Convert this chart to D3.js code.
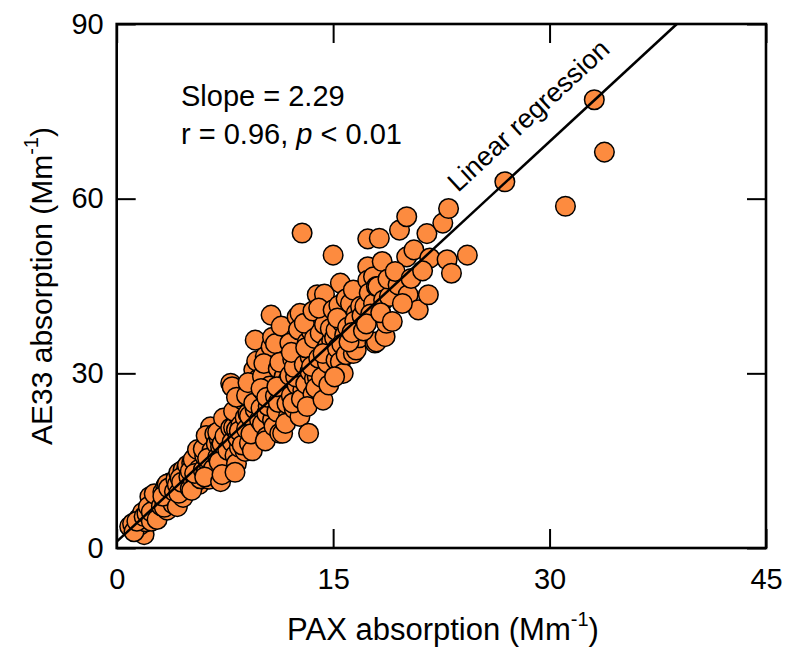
<!DOCTYPE html>
<html lang="en">
<head>
<meta charset="utf-8">
<title>AE33 vs PAX</title>
<script src="https://d3js.org/d3.v7.min.js"></script>
<style>
  body { margin: 0; background: #fff; }
  svg text { font-family: "Liberation Sans", Arial, sans-serif; fill: #000; }
  .tick line { stroke: #000; stroke-width: 2; }
  .tick text { font-size: 29px; }
  .dot { fill: #fd8b3f; stroke: #000; stroke-width: 1.5; }
</style>
</head>
<body>
<svg id="chart" width="788" height="650"></svg>
<script>
// PAX absorption (x) vs AE33 absorption (y), Mm-1
var paxValues = [
  0.9,1.1,1.3,1.5,1.7,1.9,1.6,1.2,1.8,2.0,1.4,1.9,
  2.1,2.3,2.4,2.5,2.6,2.7,2.8,2.2,2.9,3.0,2.4,2.6,2.8,
  3.1,3.2,3.3,3.4,3.5,3.6,3.7,3.8,3.9,3.3,3.5,3.7,3.9,3.2,3.6,
  4.0,4.1,4.2,4.3,4.4,4.5,4.6,4.7,4.8,4.85,4.9,4.2,4.4,4.6,4.8,4.3,4.9,4.5,
  5.0,5.1,5.2,5.3,5.4,5.5,5.6,5.7,5.8,5.9,5.1,5.3,5.5,5.7,5.9,5.2,5.6,5.8,5.4,
  6.0,6.1,6.2,6.3,6.4,6.5,6.5,6.6,6.7,6.8,6.9,6.0,6.2,6.4,6.6,6.8,6.3,6.7,6.9,6.1,
  7.0,7.1,7.2,7.3,7.4,7.5,7.6,7.7,7.8,7.9,7.0,7.2,7.4,7.6,7.8,7.1,7.3,7.5,7.7,7.9,7.3,
  8.0,8.0,8.1,8.2,8.3,8.3,8.4,8.5,8.6,8.7,8.8,8.9,8.1,8.4,8.6,8.8,8.2,8.5,8.7,8.9,8.3,
  9.0,9.1,9.2,9.3,9.4,9.5,9.6,9.6,9.7,9.7,9.8,9.9,9.0,9.2,9.4,9.6,9.8,9.3,9.5,9.9,9.1,9.7,
  10.0,10.1,10.2,10.3,10.4,10.4,10.5,10.6,10.7,10.8,10.85,10.9,10.1,10.3,10.5,10.7,10.9,10.2,10.6,10.8,10.0,10.4,
  11.0,11.1,11.2,11.3,11.4,11.5,11.5,11.6,11.7,11.8,11.9,11.0,11.2,11.4,11.6,11.8,11.3,11.7,11.9,11.1,
  12.0,12.1,12.2,12.3,12.4,12.5,12.5,12.6,12.7,12.7,12.8,12.85,12.9,12.9,12.0,12.2,12.4,12.6,12.8,12.3,12.1,
  13.0,13.1,13.2,13.3,13.4,13.5,13.6,13.7,13.8,13.9,13.9,13.0,13.2,13.4,13.6,13.8,13.1,13.5,13.7,
  14.0,14.1,14.3,14.4,14.5,14.6,14.7,14.8,14.9,14.2,14.4,14.6,14.8,14.0,14.3,14.7,
  15.0,15.0,15.1,15.2,15.2,15.3,15.4,15.5,15.5,15.6,15.7,15.8,15.9,15.1,15.3,15.6,15.9,
  16.0,16.2,16.4,16.4,16.6,16.6,16.7,16.8,16.9,16.1,16.5,16.3,
  17.0,17.2,17.4,17.4,17.4,17.5,17.8,17.8,17.9,18.0,18.0,17.1,17.6,17.3,
  18.1,18.2,18.4,18.5,18.6,18.7,18.9,18.3,18.8,
  19.1,19.5,19.6,20.1,20.1,20.2,20.6,20.9,19.3,19.8,20.4,
  21.5,21.6,21.7,22.6,22.9,23.0,23.2,24.3,21.2,
  26.9,31.1,33.1,33.8
];
var ae33Values = [
  3.7,4.2,3.1,5.0,4.8,2.3,3.9,2.8,6.1,4.5,4.6,5.4,
  5.9,8.8,4.6,6.8,7.4,5.5,8.3,7.1,6.4,8.2,6.2,9.3,4.9,
  7.2,9.6,8.4,10.6,6.5,9.1,11.2,8.0,10.1,7.0,11.0,9.4,7.6,8.9,10.3,
  9.7,11.8,7.1,12.9,10.4,9.0,13.4,11.2,10.0,13.7,12.1,10.9,12.0,8.7,11.6,9.4,14.2,11.3,
  12.3,10.2,14.6,11.7,13.8,15.9,12.4,10.9,14.1,16.4,13.2,15.2,11.4,13.5,12.8,9.9,16.9,11.9,12.8,
  13.4,15.8,13.1,17.6,14.5,15.1,20.8,12.6,18.4,16.2,14.0,17.0,19.3,11.8,16.7,19.6,15.4,13.6,17.9,12.2,
  15.6,18.8,11.4,20.1,16.9,14.3,16.3,21.4,18.1,28.3,19.9,17.4,22.3,13.1,15.4,14.8,17.9,19.2,16.8,20.6,12.6,
  27.7,18.2,20.7,15.9,20.3,14.5,22.8,17.3,24.2,19.4,21.6,16.6,23.5,18.9,21.1,25.3,13.0,20.1,17.7,22.4,25.9,
  20.4,23.1,18.0,25.6,21.9,30.6,35.7,27.4,20.3,27.1,24.3,18.8,26.2,22.7,16.7,23.8,29.0,19.6,24.9,22.0,28.4,32.1,
  24.0,21.3,26.8,32.9,23.1,19.1,28.7,25.4,40.0,22.0,30.2,26.9,29.5,18.4,24.4,34.6,20.9,31.7,27.8,36.2,27.4,25.9,
  26.1,23.4,30.8,19.7,28.3,25.4,19.7,33.6,27.0,30.6,22.6,35.1,25.0,38.1,29.4,24.8,31.9,21.4,28.9,27.7,
  29.6,26.2,32.4,23.9,36.1,39.7,28.0,30.4,22.6,40.3,33.3,54.1,34.0,27.1,35.2,24.9,29.4,37.5,25.6,31.0,33.6,
  31.5,28.2,35.3,19.7,30.3,37.2,26.4,29.1,33.8,43.5,29.4,38.6,24.3,32.9,40.7,27.5,34.4,31.2,36.0,
  32.6,36.9,25.4,43.6,34.1,34.6,30.1,40.6,35.6,29.3,38.4,31.8,37.7,41.2,33.4,28.0,
  50.3,40.9,36.1,32.3,37.4,34.3,41.7,45.5,32.0,38.8,30.0,36.6,42.8,29.4,39.5,35.0,33.2,
  37.9,42.0,44.3,33.4,34.0,40.3,38.4,36.1,41.5,35.4,39.0,37.0,
  39.9,41.5,53.1,48.3,46.0,43.8,46.6,42.0,35.2,35.4,44.9,37.3,40.2,38.5,
  44.9,53.2,49.2,42.6,36.3,38.6,43.2,40.4,46.2,
  38.9,45.2,54.6,56.9,50.0,43.5,51.2,40.9,47.5,42.0,46.3,
  54.0,43.5,49.8,55.8,49.5,58.3,47.2,50.3,47.6,
  62.9,58.7,77.0,68.0
];
var xTicks = [0, 15, 30, 45];
var yTicks = [0, 30, 60, 90];
var fitSlope = 2.29;
var fitIntercept = 1.1;

var svg = d3.select("#chart");
var pLeft = 116.7, pRight = 766, pTop = 24, pBottom = 548;

var x = d3.scaleLinear().domain([0, 45]).range([pLeft, pRight]);
var y = d3.scaleLinear().domain([0, 90]).range([pBottom, pTop]);

var points = paxValues.map(function(d, i) { return {x: d, y: ae33Values[i]}; });

// circles
svg.append("g").selectAll("circle")
  .data(points)
  .enter().append("circle")
  .attr("class", "dot")
  .attr("cx", function(d) { return x(d.x); })
  .attr("cy", function(d) { return y(d.y); })
  .attr("r", 9.8);

// regression line, clipped at the top of the frame
var xEnd = (90 - fitIntercept) / fitSlope;
svg.append("line")
  .attr("x1", x(0)).attr("y1", y(fitIntercept))
  .attr("x2", x(xEnd)).attr("y2", y(90))
  .attr("stroke", "#000")
  .attr("stroke-width", 2.5);

// axes, ticks pointing inward
svg.append("g")
  .attr("transform", "translate(0," + pBottom + ")")
  .call(d3.axisBottom(x).tickValues(xTicks).tickSize(-19).tickPadding(20).tickFormat(d3.format("d")));
svg.append("g")
  .attr("transform", "translate(0," + pTop + ")")
  .call(d3.axisTop(x).tickValues(xTicks).tickSize(-19).tickFormat(""));
svg.append("g")
  .attr("transform", "translate(" + pLeft + ",0)")
  .call(d3.axisLeft(y).tickValues(yTicks).tickSize(-19).tickPadding(13).tickFormat(d3.format("d")));
svg.append("g")
  .attr("transform", "translate(" + pRight + ",0)")
  .call(d3.axisRight(y).tickValues(yTicks).tickSize(-19).tickFormat(""));
svg.selectAll(".domain").remove();
svg.selectAll(".tick text").attr("font-family", null).attr("font-size", null);

// frame
svg.append("rect")
  .attr("x", pLeft).attr("y", pTop)
  .attr("width", pRight - pLeft).attr("height", pBottom - pTop)
  .attr("fill", "none")
  .attr("stroke", "#000")
  .attr("stroke-width", 2.6);

// axis titles
var xt = svg.append("text")
  .attr("x", 443).attr("y", 640)
  .attr("text-anchor", "middle")
  .style("font-size", "31px");
xt.append("tspan").text("PAX absorption (Mm");
xt.append("tspan").attr("dy", -14).style("font-size", "20px").text("-1");
xt.append("tspan").attr("dy", 14).text(")");

var yt = svg.append("text")
  .attr("transform", "translate(52," + ((pTop + pBottom) / 2) + ") rotate(-90)")
  .attr("text-anchor", "middle")
  .style("font-size", "30px");
yt.append("tspan").text("AE33 absorption (Mm");
yt.append("tspan").attr("dy", -14).style("font-size", "20px").text("-1");
yt.append("tspan").attr("dy", 14).text(")");

// stats text
svg.append("text")
  .attr("x", 181).attr("y", 106)
  .style("font-size", "29px")
  .text("Slope = " + fitSlope.toFixed(2));
var st = svg.append("text")
  .attr("x", 181).attr("y", 144)
  .style("font-size", "29px");
st.append("tspan").text("r = 0.96, ");
st.append("tspan").style("font-style", "italic").text("p");
st.append("tspan").text(" < 0.01");

// line label
var angle = Math.atan2(y(0) - y(fitSlope), x(1) - x(0)) * 180 / Math.PI;
svg.append("text")
  .attr("transform", "translate(458,193) rotate(" + (-angle) + ")")
  .style("font-size", "27px")
  .text("Linear regression");
</script>
</body>
</html>
